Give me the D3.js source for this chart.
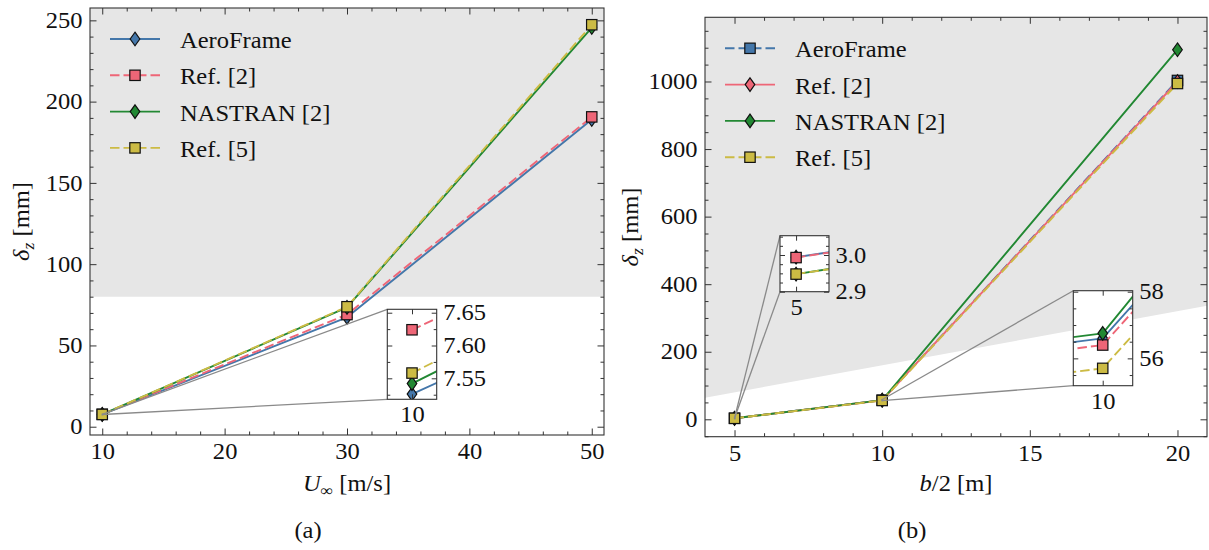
<!DOCTYPE html>
<html>
<head>
<meta charset="utf-8">
<script src="https://cdn.jsdelivr.net/npm/d3@7/dist/d3.min.js"></script>
<style>
  html, body { margin: 0; padding: 0; background: #fff; }
  svg text { font-family: "Liberation Serif", "Times New Roman", serif; fill: #111; }
</style>
</head>
<body>
<svg id="fig" width="1209" height="550"></svg>
<script>
// ---------------- data ----------------
const speeds     = [10, 30, 50];            // U_inf [m/s]
const aeroFrameA = [7.526, 67.3, 189.0];    // tip deflection [mm]
const ref2A      = [7.624, 69.0, 190.6];
const nastranA   = [7.542, 73.4, 245.6];
const ref5A      = [7.558, 73.8, 247.3];

const semiSpans  = [5, 10, 20];             // b/2 [m]
const aeroFrameB = [2.994, 56.6, 1003];     // tip deflection [mm]
const ref2B      = [2.993, 56.4, 1000];
const nastranB   = [2.948, 56.75, 1094];
const ref5B      = [2.948, 55.7, 994];

const seriesNames  = ["AeroFrame", "Ref. [2]", "NASTRAN [2]", "Ref. [5]"];
const seriesColors = ["#4477AA", "#EE6677", "#228833", "#CCBB44"];

// shaded large-deflection regions (lower bound along x)
const shadeXA = [9, 51], shadeFloorA = [80, 80];
const shadeXB = [4, 21], shadeFloorB = [64, 336];

// tick labels
const xTicksA = [10, 20, 30, 40, 50];
const yTicksA = [0, 50, 100, 150, 200, 250];
const xTicksB = [5, 10, 15, 20];
const yTicksB = [0, 200, 400, 600, 800, 1000];
const insetXTicksA  = [10], insetYTicksA  = [7.55, 7.60, 7.65];
const insetXTicksB1 = [5],  insetYTicksB1 = [2.9, 3.0];
const insetXTicksB2 = [10], insetYTicksB2 = [56, 58];

// ---------------- drawing ----------------
const svg = d3.select("#fig");
const defs = svg.append("defs");
const FS = 22.5, SX = 1.09;          // font size, horizontal glyph stretch
const LW = 1.9, DASH = "9.5,4";
const AX = "#333";
const none = () => "";
let clipCount = 0;

function stretch(sel) {
  sel.each(function () {
    const t = d3.select(this);
    const x = +t.attr("x") || 0, y = +t.attr("y") || 0;
    t.attr("transform", `translate(${x},${y}) scale(${SX},1) translate(${-x},${-y})`);
  });
}

function marker(g, kind, cx, cy, color) {
  if (kind === "s") {
    const s = 10.4;
    g.append("rect").attr("x", cx - s / 2).attr("y", cy - s / 2)
      .attr("width", s).attr("height", s)
      .attr("fill", color).attr("stroke", "#111").attr("stroke-width", 1.2);
  } else {
    const w = 4.8, h = 6.8;
    g.append("path")
      .attr("d", `M${cx},${cy - h}L${cx + w},${cy}L${cx},${cy + h}L${cx - w},${cy}Z`)
      .attr("fill", color).attr("stroke", "#111").attr("stroke-width", 1.2);
  }
}

function drawSeries(g, x, y, xs, ys, color, st) {
  const pts = xs.map((v, i) => [v, ys[i]]);
  g.append("path")
    .attr("d", d3.line().x(d => x(d[0])).y(d => y(d[1]))(pts))
    .attr("fill", "none").attr("stroke", color).attr("stroke-width", LW)
    .attr("stroke-linejoin", "round")
    .attr("stroke-dasharray", st.dash ? DASH : null);
  pts.forEach(p => marker(g, st.m, x(p[0]), y(p[1]), color));
}

function clipTo(box) {
  const id = "clip" + (clipCount++);
  defs.append("clipPath").attr("id", id).append("rect")
    .attr("x", box.left).attr("y", box.top)
    .attr("width", box.right - box.left).attr("height", box.bottom - box.top);
  return `url(#${id})`;
}

function minorTicks(lo, hi, step, majors) {
  return d3.range(Math.ceil(lo / step) * step, hi + 1e-9, step)
    .map(v => +v.toFixed(6))
    .filter(v => v > lo && v < hi && !majors.some(m => Math.abs(m - v) < step * 1e-3));
}

function frame(g, x, y, o) {
  const [xl, xr] = x.range(), [yb, yt] = y.range();
  const ax = g.append("g").attr("color", AX);
  const put = (axis, tx, ty) => ax.append("g")
    .attr("transform", `translate(${tx},${ty})`)
    .call(axis)
    .call(a => a.select(".domain").remove())
    .attr("font-size", FS).attr("font-family", null);
  put(d3.axisBottom(x).tickValues(o.xMinor).tickSize(-o.min).tickFormat(none), 0, yb);
  put(d3.axisTop(x).tickValues(o.xMinor).tickSize(-o.min).tickFormat(none), 0, yt);
  put(d3.axisBottom(x).tickValues(o.xMajor).tickSize(-o.maj).tickPadding(o.xPad).tickFormat(o.xFmt), 0, yb);
  put(d3.axisTop(x).tickValues(o.xMajor).tickSize(-o.maj).tickFormat(none), 0, yt);
  put(d3.axisLeft(y).tickValues(o.yMinor).tickSize(-o.min).tickFormat(none), xl, 0);
  put(d3.axisRight(y).tickValues(o.yMinor).tickSize(-o.min).tickFormat(none), xr, 0);
  put(d3.axisLeft(y).tickValues(o.yMajor).tickSize(-o.maj).tickPadding(o.yPad)
    .tickFormat(o.yRight ? none : o.yFmt), xl, 0);
  put(d3.axisRight(y).tickValues(o.yMajor).tickSize(-o.maj).tickPadding(o.yPad)
    .tickFormat(o.yRight ? o.yFmt : none), xr, 0);
  ax.selectAll("line").attr("stroke-width", 1);
  ax.append("rect").attr("x", xl).attr("y", yt)
    .attr("width", xr - xl).attr("height", yb - yt)
    .attr("fill", "none").attr("stroke", AX).attr("stroke-width", 1.1);
  ax.selectAll("text").call(stretch);
}

function legend(g, box, styles) {
  const rowH = 36.3, first = box.top + 31;
  seriesNames.forEach((name, i) => {
    const cy = first + i * rowH;
    const x0 = box.left + 20, x1 = box.left + 70;
    g.append("line").attr("x1", x0).attr("x2", x1).attr("y1", cy).attr("y2", cy)
      .attr("stroke", seriesColors[i]).attr("stroke-width", LW)
      .attr("stroke-dasharray", styles[i].dash ? DASH : null);
    marker(g, styles[i].m, (x0 + x1) / 2, cy, seriesColors[i]);
    g.append("text").attr("x", box.left + 90).attr("y", cy + 9)
      .attr("font-size", FS).text(name).call(stretch);
  });
}

function mathText(g, parts, tx, ty, rot) {
  const t = g.append("text").attr("text-anchor", "middle").attr("font-size", FS)
    .attr("transform", `translate(${tx},${ty}) rotate(${rot}) scale(${SX},1)`);
  parts.forEach(p => {
    const s = t.append("tspan").text(p.t);
    if (p.it) s.attr("font-style", "italic");
    if (p.small) s.attr("font-size", FS * 0.72);
    if (p.dy) s.attr("dy", p.dy);
  });
}

// line styles: left panel (and all zoom insets) / right panel
const styleA = [{ dash: false, m: "d" }, { dash: true, m: "s" }, { dash: false, m: "d" }, { dash: true, m: "s" }];
const styleB = [{ dash: true, m: "s" }, { dash: false, m: "d" }, { dash: false, m: "d" }, { dash: true, m: "s" }];

function panel(cfg) {
  const g = svg.append("g");
  const b = cfg.box;
  const x = d3.scaleLinear().domain(cfg.xLim).range([b.left, b.right]);
  const y = d3.scaleLinear().domain(cfg.yLim).range([b.bottom, b.top]);
  const plot = g.append("g").attr("clip-path", clipTo(b));
  plot.append("rect").attr("x", b.left).attr("y", b.top)
    .attr("width", b.right - b.left).attr("height", b.bottom - b.top).attr("fill", "#fff");
  if (cfg.shadeX) {
    const pts = cfg.shadeX.map((v, i) => [v, cfg.shadeFloor[i]]);
    plot.append("path")
      .attr("d", d3.area().x(d => x(d[0])).y0(d => y(d[1])).y1(() => y(cfg.yLim[1]))(pts))
      .attr("fill", "#e6e6e6");
  }
  cfg.series.forEach((s, i) => drawSeries(plot, x, y, cfg.xs, s, seriesColors[i], cfg.styles[i]));
  return { g, x, y, plot };
}

function inset(parent, main, cfg) {
  const b = cfg.box;
  // connector lines and zoom rectangle on the parent axes
  const rx0 = main.x(cfg.xLim[0]), rx1 = main.x(cfg.xLim[1]);
  const ry0 = main.y(cfg.yLim[0]), ry1 = main.y(cfg.yLim[1]);
  const cg = parent.append("g").attr("stroke", "#8a8a8a").attr("stroke-width", 1.3).attr("fill", "none");
  cg.append("rect").attr("x", rx0).attr("y", ry1).attr("width", Math.max(rx1 - rx0, 0.5)).attr("height", Math.max(ry0 - ry1, 0.5));
  cg.append("line").attr("x1", rx0).attr("y1", ry1).attr("x2", b.left).attr("y2", b.top);
  cg.append("line").attr("x1", rx0).attr("y1", ry0).attr("x2", b.left).attr("y2", b.bottom);

  const p = panel({ box: b, xLim: cfg.xLim, yLim: cfg.yLim, xs: cfg.xs, series: cfg.series, styles: styleA });
  frame(p.g, p.x, p.y, {
    xMajor: cfg.xTicks, xMinor: [], yMajor: cfg.yTicks,
    yMinor: minorTicks(cfg.yLim[0], cfg.yLim[1], cfg.yMinorStep, cfg.yTicks),
    maj: 5, min: 3, xPad: 7, yPad: 6.5, xFmt: d3.format("d"), yFmt: cfg.yFmt, yRight: true
  });
}

// ---------- panel (a) ----------
const boxA = { left: 90, top: 8, right: 604, bottom: 435 };
const A = panel({
  box: boxA, xLim: [9, 51], yLim: [-5.1, 257.6], xs: speeds,
  series: [aeroFrameA, ref2A, nastranA, ref5A], styles: styleA,
  shadeX: shadeXA, shadeFloor: shadeFloorA
});
frame(A.g, A.x, A.y, {
  xMajor: xTicksA, xMinor: minorTicks(9, 51, 2, xTicksA),
  yMajor: yTicksA, yMinor: minorTicks(-5.1, 257.6, 10, yTicksA),
  maj: 6.5, min: 3.5, xPad: 8, yPad: 7.5, xFmt: d3.format("d"), yFmt: d3.format("d")
});
legend(A.g, boxA, styleA);
inset(A.g, A, {
  box: { left: 387.3, top: 309.3, right: 436.7, bottom: 399.3 },
  xLim: [9.9943, 10.0057], yLim: [7.518, 7.6552], xs: speeds,
  series: [aeroFrameA, ref2A, nastranA, ref5A],
  xTicks: insetXTicksA, yTicks: insetYTicksA, yMinorStep: 0.025, yFmt: d3.format(".2f")
});
mathText(svg, [{ t: "δ", it: 1 }, { t: "z", it: 1, small: 1, dy: 5 }, { t: "\u00a0[mm]", dy: -5 }], 29, 221.5, -90);
mathText(svg, [{ t: "U", it: 1 }, { t: "∞", small: 1, dy: 5 }, { t: "\u00a0[m/s]", dy: -5 }], 347, 491, 0);
mathText(svg, [{ t: "(a)" }], 308, 538, 0);

// ---------- panel (b) ----------
const boxB = { left: 705, top: 17.3, right: 1207, bottom: 436.7 };
const B = panel({
  box: boxB, xLim: [4, 21], yLim: [-51.5, 1190], xs: semiSpans,
  series: [aeroFrameB, ref2B, nastranB, ref5B], styles: styleB,
  shadeX: shadeXB, shadeFloor: shadeFloorB
});
frame(B.g, B.x, B.y, {
  xMajor: xTicksB, xMinor: minorTicks(4, 21, 1, xTicksB),
  yMajor: yTicksB, yMinor: minorTicks(-51.5, 1190, 50, yTicksB),
  maj: 6.5, min: 3.5, xPad: 8, yPad: 7.5, xFmt: d3.format("d"), yFmt: d3.format("d")
});
legend(B.g, boxB, styleB);
inset(B.g, B, {
  box: { left: 780, top: 235.7, right: 829, bottom: 291.7 },
  xLim: [4.99938, 5.00127], yLim: [2.9, 3.0526], xs: semiSpans,
  series: [aeroFrameB, ref2B, nastranB, ref5B],
  xTicks: insetXTicksB1, yTicks: insetYTicksB1, yMinorStep: 0.025, yFmt: d3.format(".1f")
});
inset(B.g, B, {
  box: { left: 1073.3, top: 290.7, right: 1132.7, bottom: 385.7 },
  xLim: [9.9896, 10.0106], yLim: [55.18, 58.03], xs: semiSpans,
  series: [aeroFrameB, ref2B, nastranB, ref5B],
  xTicks: insetXTicksB2, yTicks: insetYTicksB2, yMinorStep: 0.5, yFmt: d3.format("d")
});
mathText(svg, [{ t: "δ", it: 1 }, { t: "z", it: 1, small: 1, dy: 5 }, { t: "\u00a0[mm]", dy: -5 }], 638, 227, -90);
mathText(svg, [{ t: "b", it: 1 }, { t: "/2\u00a0[m]" }], 956, 491, 0);
mathText(svg, [{ t: "(b)" }], 912, 538, 0);
</script>
</body>
</html>
